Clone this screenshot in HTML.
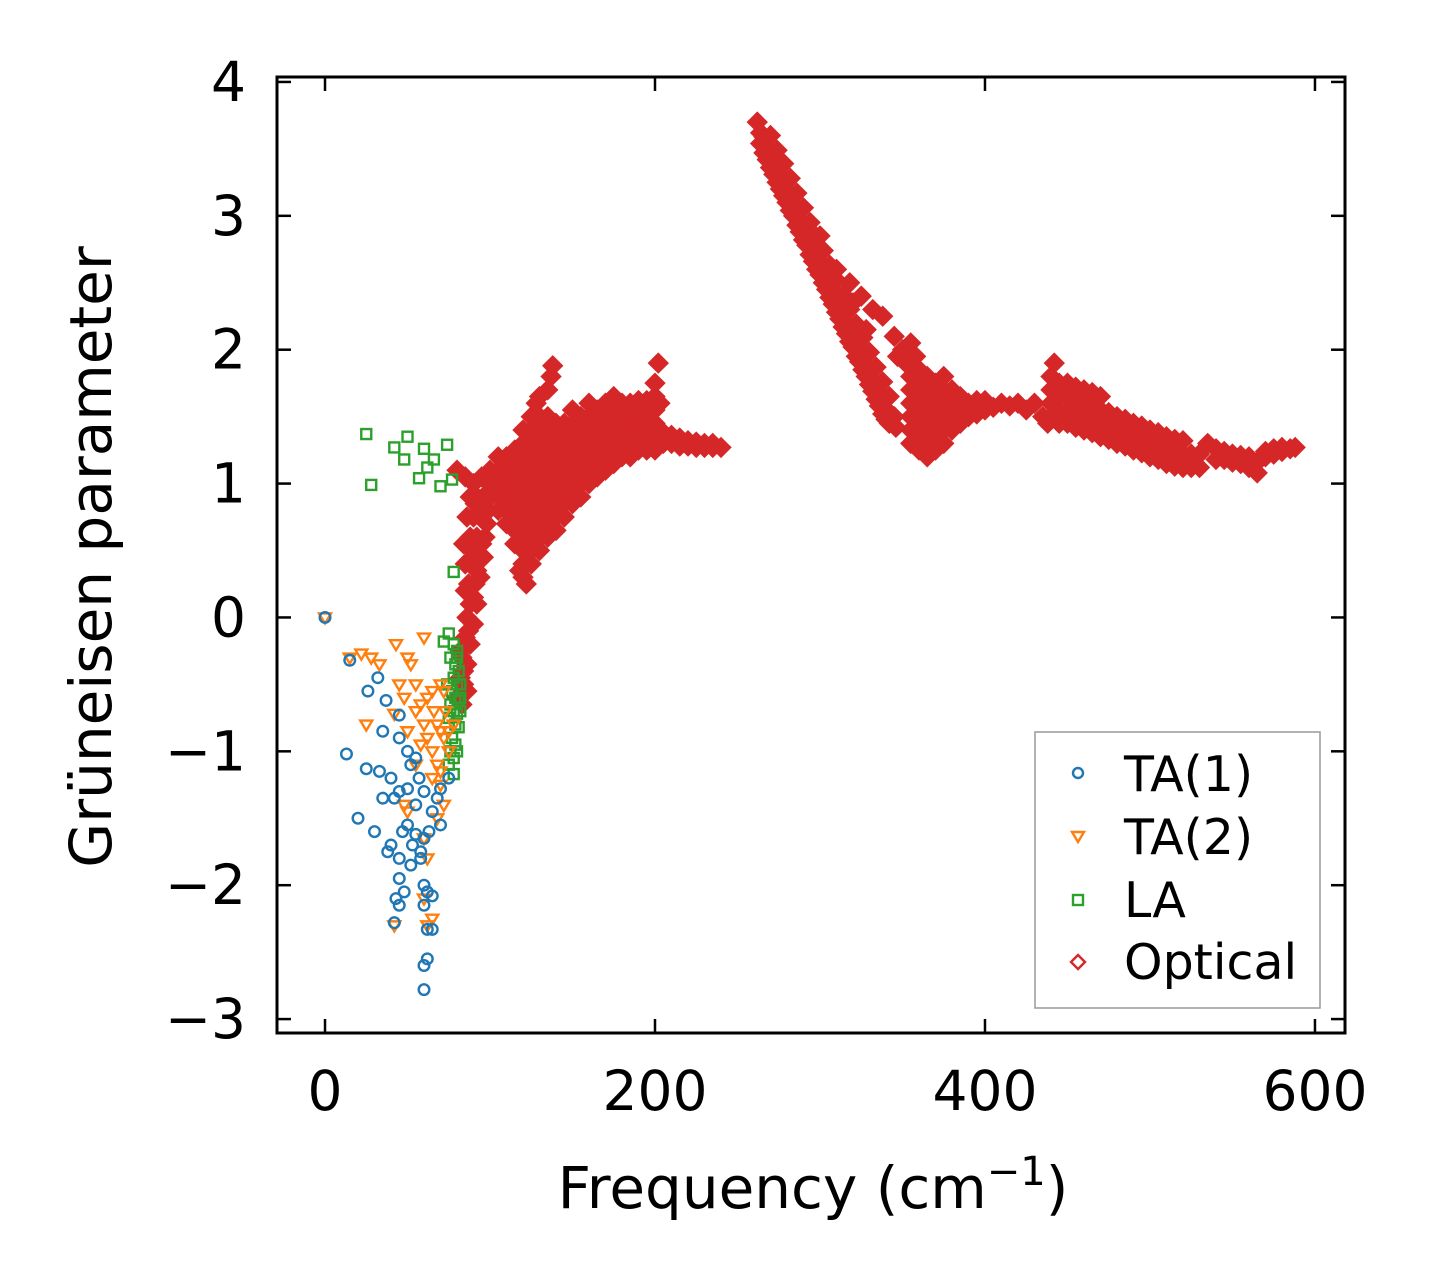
<!DOCTYPE html>
<html><head><meta charset="utf-8"><style>
body{margin:0;background:#fff}
svg{display:block;font-family:"DejaVu Sans","Liberation Sans",sans-serif}
</style></head><body>
<svg id="chart" width="1429" height="1282">
<g id="marks"></g>
<g id="axes"></g>
<g>
<rect x="1035" y="732" width="285" height="276" fill="#fff" stroke="#999" stroke-width="1.5"/>
<g><circle cx="1078" cy="773" r="5" fill="none" stroke="#1f77b4" stroke-width="2.4"/><text x="1124" y="791" font-size="49">TA(1)</text></g>
<g><path d="M1072,832 L1084,832 L1078,842 Z" fill="none" stroke="#ff7f0e" stroke-width="2.4"/><text x="1124" y="854" font-size="49">TA(2)</text></g>
<g><rect x="1073" y="895" width="10" height="10" fill="none" stroke="#2ca02c" stroke-width="2.4"/><text x="1124" y="917" font-size="49">LA</text></g>
<g><path d="M1078,955 L1085,962 L1078,969 L1071,962 Z" fill="none" stroke="#d62728" stroke-width="2.4"/><text x="1124" y="979" font-size="49">Optical</text></g>
</g>
<text x="813" y="1208" font-size="58" text-anchor="middle">Frequency (cm<tspan dy="-23" font-size="40">−1</tspan><tspan dy="23">)</tspan></text>
<text transform="translate(111,557) rotate(-90)" font-size="58" text-anchor="middle">Grüneisen parameter</text>
</svg>
<script>
const xTicks=[0,200,400,600];
const yTicks=[-3,-2,-1,0,1,2,3,4];
const ta1=[[0,0],[15,-0.32],[32,-0.45],[26,-0.55],[37,-0.62],[45,-0.73],[35,-0.85],[45,-0.9],[50,-1.0],[55,-1.05],[13,-1.02],[25,-1.13],[33,-1.15],[40,-1.2],[45,-1.3],[50,-1.28],[60,-1.3],[70,-1.28],[35,-1.35],[42,-1.35],[55,-1.4],[65,-1.45],[20,-1.5],[30,-1.6],[40,-1.7],[50,-1.55],[55,-1.62],[60,-1.65],[70,-1.55],[38,-1.75],[45,-1.8],[52,-1.85],[58,-1.8],[45,-1.95],[48,-2.05],[43,-2.1],[45,-2.15],[42,-2.28],[60,-2.0],[62,-2.05],[65,-2.08],[60,-2.15],[62,-2.33],[65,-2.33],[62,-2.55],[60,-2.6],[60,-2.78],[75,-1.2],[68,-1.35],[52,-1.1],[57,-1.2],[47,-1.6],[53,-1.7],[58,-1.75],[63,-1.6]];
const ta2=[[0,0],[15,-0.3],[22,-0.27],[28,-0.3],[33,-0.35],[43,-0.2],[50,-0.3],[52,-0.35],[55,-0.5],[60,-0.15],[45,-0.5],[48,-0.6],[55,-0.7],[58,-0.65],[62,-0.6],[65,-0.55],[70,-0.5],[72,-0.55],[25,-0.8],[42,-0.72],[50,-0.85],[60,-0.8],[62,-0.9],[68,-0.8],[70,-0.85],[72,-0.9],[75,-0.85],[65,-1.0],[68,-1.1],[70,-1.15],[65,-1.2],[75,-1.0],[55,-1.1],[48,-1.4],[50,-1.45],[70,-1.25],[72,-1.4],[68,-1.5],[60,-1.65],[62,-1.8],[65,-2.25],[62,-2.3],[42,-2.3],[60,-2.1],[78,-0.8],[66,-0.7],[73,-0.7],[58,-0.95]];
const la=[[25,1.37],[28,0.99],[42,1.27],[48,1.18],[50,1.35],[57,1.04],[60,1.26],[62,1.12],[66,1.18],[70,0.98],[74,1.29],[77,1.03],[78,0.34],[75,-0.12],[72,-0.18],[78,-0.2],[80,-0.25],[79,-0.35],[81,-0.4],[78,-0.45],[80,-0.5],[82,-0.5],[77,-0.55],[79,-0.6],[81,-0.62],[76,-0.65],[78,-0.7],[80,-0.72],[82,-0.7],[75,-0.75],[79,-0.8],[81,-0.82],[77,-0.9],[79,-0.95],[76,-1.0],[78,-1.05],[80,-1.0],[75,-1.1],[78,-1.17],[74,-0.5],[76,-0.3],[80,-0.3],[82,-0.6]];
const optical=[[80,-0.6],[82,-0.45],[84,-0.5],[83,-0.3],[86,-0.35],[85,-0.15],[88,-0.2],[86,0],[90,-0.05],[88,0.1],[92,0.1],[87,0.25],[91,0.25],[94,0.3],[85,0.4],[89,0.4],[93,0.45],[96,0.45],[84,0.55],[88,0.6],[92,0.6],[97,0.6],[86,0.75],[90,0.75],[95,0.75],[99,0.8],[88,0.9],[92,0.9],[96,0.9],[100,0.95],[85,1.05],[80,1.1],[90,1.0],[95,1.05],[100,1.1],[104,1.05],[108,1.1],
[84,-0.4],[87,-0.1],[90,0.15],[92,0.35],[95,0.55],[98,0.7],[82,-0.25],[85,0.2],[89,0.5],[91,0.85],[86,-0.55],[83,-0.65],
[100,0.9],[100,1.0],[105,0.8],[105,0.9],[105,1.0],[105,1.1],[105,1.2],[110,0.7],[110,0.8],[110,0.9],[110,1.0],[110,1.1],[110,1.2],
[115,0.55],[115,0.65],[115,0.75],[115,0.85],[115,0.95],[115,1.05],[115,1.15],[115,1.25],
[120,0.3],[120,0.4],[120,0.5],[120,0.6],[120,0.7],[120,0.8],[120,0.9],[120,1.0],[120,1.1],[120,1.2],[120,1.3],
[125,0.4],[125,0.5],[125,0.6],[125,0.7],[125,0.8],[125,0.9],[125,1.0],[125,1.1],[125,1.2],[125,1.3],[125,1.4],
[130,0.5],[130,0.6],[130,0.7],[130,0.8],[130,0.9],[130,1.0],[130,1.1],[130,1.2],[130,1.3],[130,1.4],[130,1.5],
[135,0.6],[135,0.7],[135,0.8],[135,0.9],[135,1.0],[135,1.1],[135,1.2],[135,1.3],[135,1.4],[135,1.5],
[140,0.65],[140,0.75],[140,0.85],[140,0.95],[140,1.05],[140,1.15],[140,1.25],[140,1.35],[140,1.45],
[145,0.75],[145,0.85],[145,0.95],[145,1.05],[145,1.15],[145,1.25],[145,1.35],[145,1.45],
[150,0.85],[150,0.95],[150,1.05],[150,1.15],[150,1.25],[150,1.35],[150,1.45],[150,1.55],
[155,0.9],[155,1.0],[155,1.1],[155,1.2],[155,1.3],[155,1.4],[155,1.5],
[160,1.0],[160,1.1],[160,1.2],[160,1.3],[160,1.4],[160,1.5],[160,1.6],
[165,1.05],[165,1.15],[165,1.25],[165,1.35],[165,1.45],[165,1.55],
[170,1.1],[170,1.2],[170,1.3],[170,1.4],[170,1.5],[170,1.6],
[175,1.15],[175,1.25],[175,1.35],[175,1.45],[175,1.55],[175,1.65],
[180,1.2],[180,1.3],[180,1.4],[180,1.5],[180,1.6],
[185,1.2],[185,1.3],[185,1.4],[185,1.5],[185,1.6],
[190,1.25],[190,1.35],[190,1.45],[190,1.55],[190,1.62],
[195,1.25],[195,1.35],[195,1.45],[195,1.55],[195,1.62],
[200,1.25],[200,1.35],[200,1.45],[200,1.55],[200,1.65],[200,1.75],[202,1.9],[203,1.6],[203,1.4],
[205,1.3],[205,1.38],[210,1.3],[210,1.36],[215,1.28],[215,1.34],[220,1.28],[220,1.32],[225,1.27],[225,1.31],[230,1.27],[230,1.3],[235,1.27],[235,1.3],[240,1.27],
[135,1.7],[137,1.8],[138,1.88],[128,1.6],[125,1.5],[130,1.65],[120,1.4],[122,0.25],[118,0.35],
[262,3.7],[264,3.62],[266,3.59],[266,3.47],[270,3.48],[270,3.36],[270,3.6],[274,3.37],[274,3.25],[274,3.49],[278,3.27],[278,3.15],[278,3.39],[282,3.16],[282,3.04],[282,3.28],[286,3.05],[286,2.93],[286,3.17],[290,2.94],[290,2.82],[290,3.06],[294,2.83],[294,2.71],[294,2.95],[298,2.72],[298,2.6],[298,2.84],[302,2.62],[302,2.5],[302,2.74],[306,2.51],[306,2.39],[306,2.63],[310,2.4],[310,2.28],[310,2.52],[314,2.29],[314,2.17],[314,2.41],[318,2.18],[318,2.06],[318,2.3],[322,2.07],[322,1.95],[322,2.19],[326,1.97],[326,1.85],[326,2.09],[330,1.86],[330,1.74],[330,1.98],[334,1.75],[334,1.63],[334,1.87],[338,1.64],[338,1.52],[338,1.76],[342,1.53],[342,1.45],[342,1.65],[346,1.42],[345,1.5],
[264,3.54],[268,3.42],[272,3.31],[276,3.2],[280,3.1],[284,3.0],[288,2.88],[292,2.78],[296,2.66],[300,2.56],[304,2.45],[308,2.34],[312,2.23],[316,2.12],[320,2.02],[324,1.91],[328,1.8],[332,1.69],[336,1.58],[340,1.48],
[300,2.85],[310,2.6],[318,2.5],[325,2.4],[332,2.3],[338,2.25],[345,2.1],[350,2.0],[355,2.05],[358,1.95],[352,1.9],[347,1.95],[328,2.15],[320,2.35],
[355,1.3],[355,1.4],[355,1.5],[355,1.6],[355,1.7],[355,1.8],[360,1.25],[360,1.35],[360,1.45],[360,1.55],[360,1.65],[360,1.75],[360,1.85],
[365,1.2],[365,1.3],[365,1.4],[365,1.5],[365,1.6],[365,1.7],[365,1.8],[370,1.25],[370,1.35],[370,1.45],[370,1.55],[370,1.65],[370,1.75],
[375,1.3],[375,1.4],[375,1.5],[375,1.6],[375,1.7],[375,1.8],[380,1.4],[380,1.5],[380,1.6],[380,1.7],[385,1.45],[385,1.55],[385,1.65],[390,1.5],[390,1.6],[395,1.52],[395,1.62],
[400,1.55],[400,1.62],[405,1.57],[410,1.6],[415,1.58],[420,1.6],[425,1.55],[430,1.6],[435,1.5],[438,1.45],
[440,1.5],[440,1.6],[440,1.7],[440,1.8],[442,1.9],[445,1.45],[445,1.55],[445,1.65],[445,1.75],[450,1.45],[450,1.55],[450,1.65],[450,1.75],[455,1.42],[455,1.52],[455,1.62],[455,1.72],
[460,1.4],[460,1.5],[460,1.6],[460,1.7],[465,1.38],[465,1.48],[465,1.58],[465,1.68],[470,1.35],[470,1.45],[470,1.55],[470,1.65],[475,1.33],[475,1.43],[475,1.53],
[480,1.3],[480,1.4],[480,1.5],[485,1.28],[485,1.38],[485,1.48],[490,1.25],[490,1.35],[490,1.45],[495,1.23],[495,1.33],[495,1.43],
[500,1.2],[500,1.3],[500,1.4],[505,1.18],[505,1.28],[505,1.38],[510,1.15],[510,1.25],[510,1.35],[515,1.13],[515,1.23],[515,1.33],[520,1.12],[520,1.22],[520,1.32],[525,1.12],[525,1.22],[530,1.12],[530,1.22],[535,1.3],
[540,1.18],[540,1.26],[545,1.18],[545,1.24],[550,1.16],[550,1.22],[555,1.15],[555,1.21],[560,1.12],[560,1.2],[565,1.08],[565,1.16],[570,1.2],[570,1.24],[575,1.22],[575,1.26],[580,1.24],[580,1.27],[585,1.26],[588,1.27]];
const NS='http://www.w3.org/2000/svg';
const L=277,R=1345,T=77,B=1033;
const X0=-29.1,X1=618.2,Y0=-3.104,Y1=4.037;
function sx(v){return L+(v-X0)/(X1-X0)*(R-L);}
function sy(v){return B-(v-Y0)/(Y1-Y0)*(B-T);}
const marks=document.getElementById('marks');
function add(parent,tag,attrs){const e=document.createElementNS(NS,tag);for(const k in attrs)e.setAttribute(k,attrs[k]);parent.appendChild(e);return e;}
optical.forEach(p=>{const x=sx(p[0]),y=sy(p[1]);
const e=add(marks,'path',{d:`M${x},${y-9}L${x+9},${y}L${x},${y+9}L${x-9},${y}Z`,fill:'#d62728',stroke:'#d62728','stroke-width':2.4});

});
la.forEach(p=>{const x=sx(p[0]),y=sy(p[1]);
const e=add(marks,'rect',{x:x-5,y:y-5,width:10,height:10,fill:'none',stroke:'#2ca02c','stroke-width':2.4});

});
ta2.forEach(p=>{const x=sx(p[0]),y=sy(p[1]);
const e=add(marks,'path',{d:`M${x-6},${y-4}L${x+6},${y-4}L${x},${y+6}Z`,fill:'none',stroke:'#ff7f0e','stroke-width':2.4});

});
ta1.forEach(p=>{const e=add(marks,'circle',{cx:sx(p[0]),cy:sy(p[1]),r:5.3,fill:'none',stroke:'#1f77b4','stroke-width':2.4});

});
const axes=document.getElementById('axes');
const fr=add(axes,'rect',{x:L,y:T,width:R-L,height:B-T,fill:'none',stroke:'#000','stroke-width':3});


xTicks.forEach(v=>{const x=sx(v);
add(axes,'line',{x1:x,x2:x,y1:B,y2:B-14,stroke:'#000','stroke-width':2.5});
add(axes,'line',{x1:x,x2:x,y1:T,y2:T+14,stroke:'#000','stroke-width':2.5});
const t=add(axes,'text',{x:x,y:1110,'font-size':55,'text-anchor':'middle'});t.textContent=String(v);

});
yTicks.forEach(v=>{const y=sy(v);
add(axes,'line',{x1:L,x2:L+14,y1:y,y2:y,stroke:'#000','stroke-width':2.5});
add(axes,'line',{x1:R,x2:R-14,y1:y,y2:y,stroke:'#000','stroke-width':2.5});
const t=add(axes,'text',{x:246,y:y+19,'font-size':55,'text-anchor':'end'});t.textContent=v<0?'−'+Math.abs(v):String(v);

});
</script>
</body></html>
